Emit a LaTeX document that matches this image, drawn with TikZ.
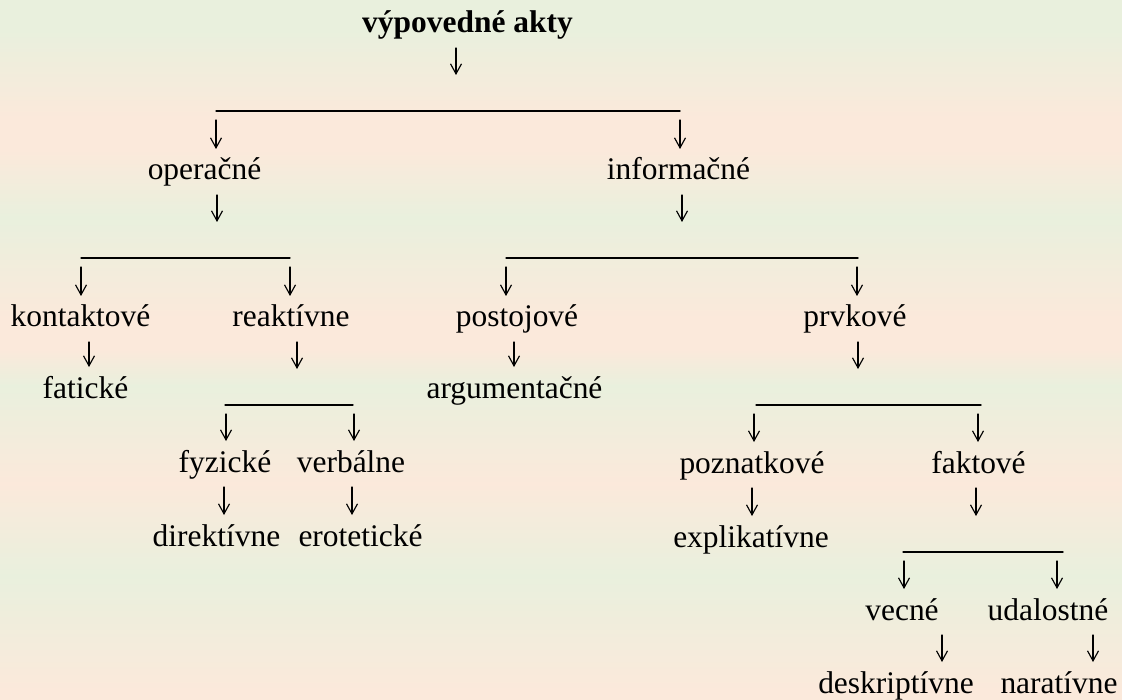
\documentclass[tikz,border=0pt]{standalone}
\usepackage{fontspec}
\setmainfont{Liberation Serif}
\usetikzlibrary{arrows.meta,calc}
\definecolor{bggreen}{RGB}{233,240,221}
\definecolor{bgpeach}{RGB}{251,233,219}
\tikzset{
  lbl/.style={anchor=base,inner sep=0pt,font=\fontsize{17.9}{21}\selectfont},
  bar/.style={line width=0.75pt},
  arr/.style={line width=0.65pt,-{Straight Barb[length=2mm,width=2.2mm]}}
}
\begin{document}
\begin{tikzpicture}[x=0.2mm,y=-0.2mm,line join=round,line cap=round]
\useasboundingbox (0,0) rectangle (1122,700);
\fill[bggreen] (0,0) rectangle (1122,31);
\foreach \ya/\yb/\ca/\cb in {30/117/bggreen/bgpeach,117/150/bgpeach/bgpeach,150/217/bgpeach/bggreen,217/317/bggreen/bgpeach,317/350/bgpeach/bgpeach,350/385/bgpeach/bggreen,385/483/bggreen/bgpeach,483/575/bgpeach/bggreen,575/690/bggreen/bgpeach,690/700/bgpeach/bgpeach}
  \shade[top color=\ca,bottom color=\cb] (0,\ya) rectangle (1122,\yb+1);
\node[lbl] (akty) at (467.5,33) {\bfseries výpovedné akty};
\foreach \n/\x/\y/\t in {oper/204.5/180/operačné,info/678.5/180/informačné,
  kont/80.5/327/kontaktové,reak/291/327/reaktívne,post/517/327/postojové,prvk/855/327/prvkové,
  fat/85.5/398/fatické,arg/514.5/398/argumentačné,
  fyz/225/472/fyzické,verb/351/472/verbálne,pozn/752/473/poznatkové,fakt/978.5/473/faktové,
  dir/216.5/546/direktívne,erot/360.5/546/erotetické,expl/751/547/explikatívne,
  vecne/902/620/vecné,udal/1048/620/udalostné,
  desk/896/693/deskriptívne,narat/1059/693/naratívne}
  \node[lbl] (\n) at (\x,\y) {\t};
\foreach \n/\xa/\xb/\y in {b1/216/680/111,b2/81/290/258,b3/506/858/258,b4/225/353/405,b5/756/981/405,b6/903/1063/552}
  {\coordinate (\n) at (\xa,\y); \draw[bar] (\n) -- (\xb,\y);}
\foreach \x/\p/\c in {89/kont/fat,514/post/arg,224/fyz/dir,352/verb/erot,752/pozn/expl,942/vecne/desk,1093/udal/narat}
  \draw[arr] ($(\x,0 |- \p.base)+(0,15)$) -- ($(\x,0 |- \c.base)+(0,-31)$);
\foreach \x/\p/\b in {456/akty/b1,217/oper/b2,682/info/b3,297/reak/b4,858/prvk/b5,976/fakt/b6}
  \draw[arr] ($(\x,0 |- \p.base)+(0,15)$) -- ($(\x,0 |- \b)+(0,-36)$);
\foreach \x/\b/\c in {216/b1/oper,680/b1/info,81/b2/kont,290/b2/reak,506/b3/post,857/b3/prvk,226/b4/fyz,354/b4/verb,754/b5/pozn,978/b5/fakt,904/b6/vecne,1057/b6/udal}
  \draw[arr] ($(\x,0 |- \b)+(0,9)$) -- ($(\x,0 |- \c.base)+(0,-31)$);
\end{tikzpicture}
\end{document}
